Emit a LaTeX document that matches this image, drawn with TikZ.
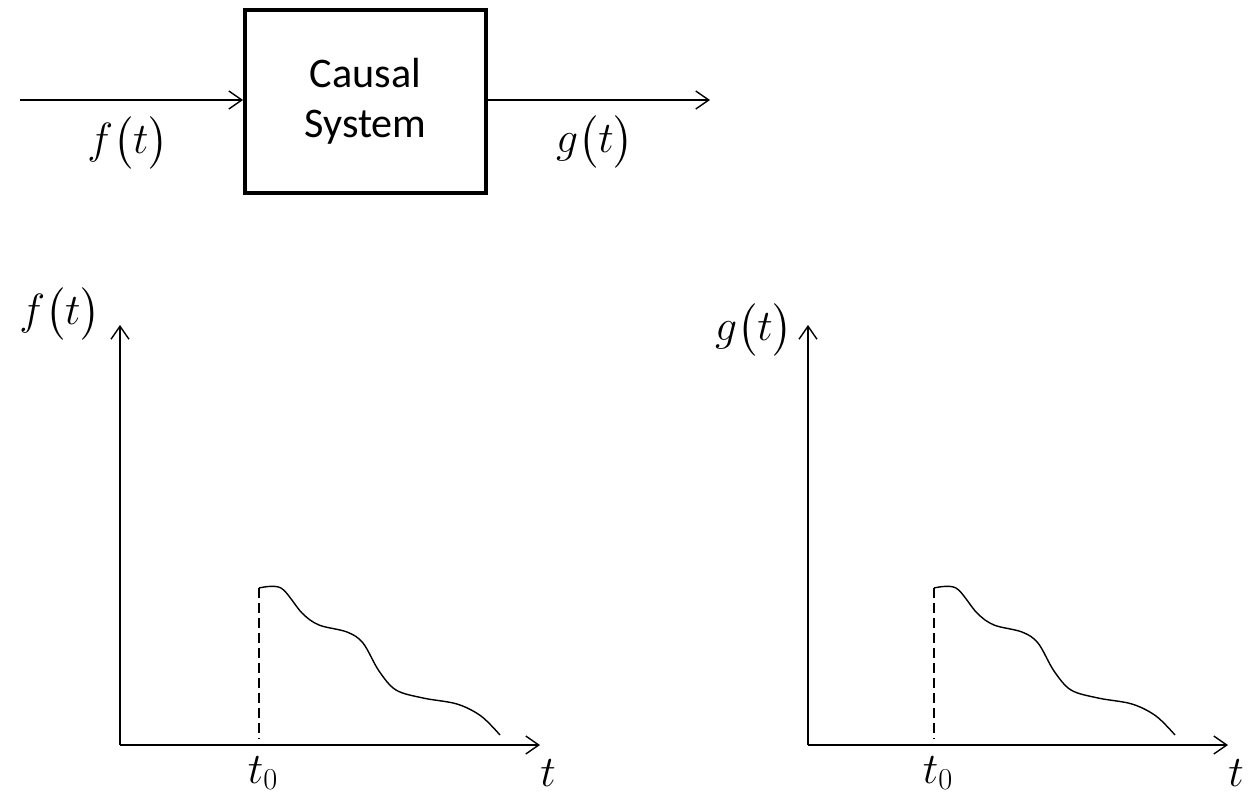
\documentclass[tikz,border=0pt]{standalone}
\usepackage{amsmath}
\usepackage{fontspec}
\setsansfont{Carlito}
\usetikzlibrary{arrows.meta}
\tikzset{sysbox/.style={rectangle,draw,line width=2.2pt,minimum width=4.82cm,minimum height=3.66cm,align=center,font=\sffamily\fontsize{24}{28.5}\selectfont},line/.style={line width=0.8pt,-{Straight Barb[length=2.6mm,width=3.6mm]}},mathlbl/.style={inner sep=0pt,font=\fontsize{27}{30}\selectfont},wave/.style={line width=0.8pt},onset/.style={line width=0.8pt,dash pattern=on 0.2cm off 0.1cm}}

\begin{document}
\begin{tikzpicture}[x=0.02cm,y=-0.02cm]
\useasboundingbox (0,0) rectangle (1252,799);
% block diagram
\node[sysbox] (sys) at (365.5,101.5) {Causal\\System};
\coordinate (in) at (20,100);
\coordinate (out) at (710,100);
\draw[line] (in) -- (in -| sys.west);
\draw[line] (sys.east |- out) -- (out);
\node[mathlbl] (fin) at (128,143) {$f\bigl(t\bigr)$};
\node[mathlbl] (gout) at (595,142) {$g\bigl(t\bigr)$};
% time plots
\foreach \ox/\tx/\xend/\fn/\lx/\ly in {120/259/540/f/60/314, 808/934/1228/g/754/330}{
  \coordinate (o\fn) at (\ox,745);
  \coordinate (ytip\fn) at (\ox,325);
  \coordinate (xtip\fn) at (\xend,745);
  \draw[line] (o\fn) -- (ytip\fn);
  \draw[line] (o\fn) -- (xtip\fn);
  \node[mathlbl] (ylab\fn) at (\lx,\ly) {$\fn\bigl(t\bigr)$};
  \node[mathlbl] (tlab\fn) at (\xend+8,773) {$t$};
  \coordinate (start\fn) at (\tx,588);
  \draw[onset] (start\fn) -- (\tx,738);
  \node[mathlbl] (tz\fn) at (\tx+4,773) {$t_0$};
  \begin{scope}[shift={(start\fn)}]
    \draw[wave] plot[smooth,tension=0.55] coordinates {(0,0) (22,0) (43,25) (60,37) (88,44) (104,55) (120,83) (137,102) (164,110) (198,116) (222,128) (241,147)};
  \end{scope}
}
\end{tikzpicture}
\end{document}
